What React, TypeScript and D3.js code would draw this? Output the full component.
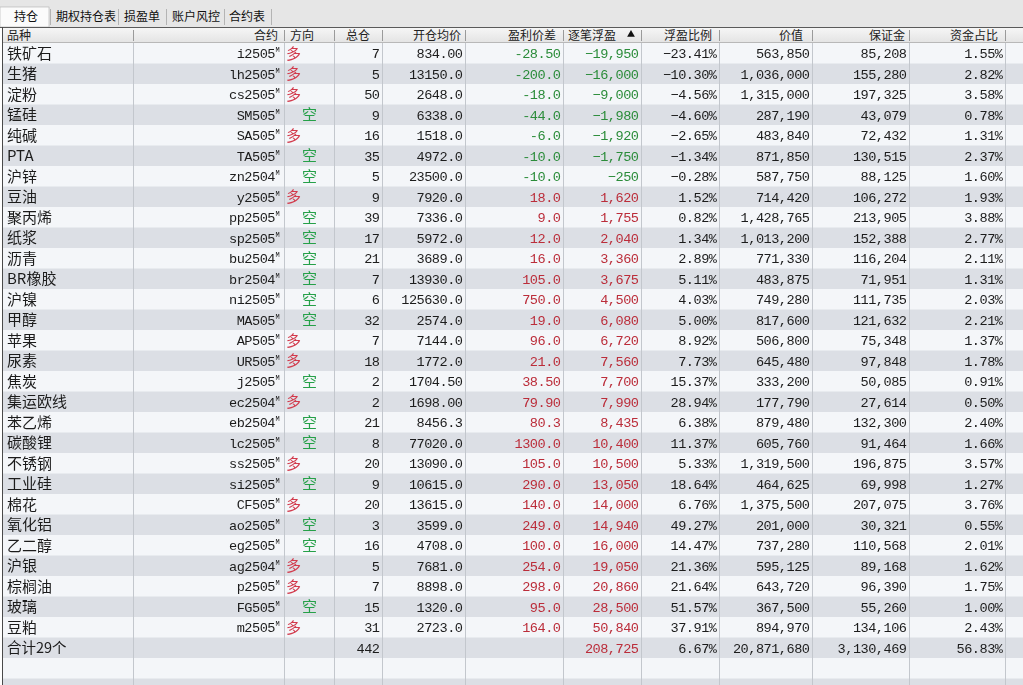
import React from 'react'
import * as d3 from 'd3'

// ---- data ----
const tabs = ['持仓', '期权持仓表', '损盈单', '账户风控', '合约表']
const headers = ['品种', '合约', '方向', '总仓', '开仓均价', '盈利价差', '逐笔浮盈', '浮盈比例', '价值', '保证金', '资金占比']

const varieties = ['铁矿石', '生猪', '淀粉', '锰硅', '纯碱', 'PTA', '沪锌', '豆油', '聚丙烯', '纸浆', '沥青', 'BR橡胶', '沪镍', '甲醇', '苹果', '尿素', '焦炭', '集运欧线', '苯乙烯', '碳酸锂', '不锈钢', '工业硅', '棉花', '氧化铝', '乙二醇', '沪银', '棕榈油', '玻璃', '豆粕']
const contracts = ['i2505', 'lh2505', 'cs2505', 'SM505', 'SA505', 'TA505', 'zn2504', 'y2505', 'pp2505', 'sp2505', 'bu2504', 'br2504', 'ni2505', 'MA505', 'AP505', 'UR505', 'j2505', 'ec2504', 'eb2504', 'lc2505', 'ss2505', 'si2505', 'CF505', 'ao2505', 'eg2505', 'ag2504', 'p2505', 'FG505', 'm2505']
const directions = ['多', '多', '多', '空', '多', '空', '空', '多', '空', '空', '空', '空', '空', '空', '多', '多', '空', '多', '空', '空', '多', '空', '多', '空', '空', '多', '多', '空', '多']
const positions = [7, 5, 50, 9, 16, 35, 5, 9, 39, 17, 21, 7, 6, 32, 7, 18, 2, 2, 21, 8, 20, 9, 20, 3, 16, 5, 7, 15, 31]
const openPrices = ['834.00', '13150.0', '2648.0', '6338.0', '1518.0', '4972.0', '23500.0', '7920.0', '7336.0', '5972.0', '3689.0', '13930.0', '125630.0', '2574.0', '7144.0', '1772.0', '1704.50', '1698.00', '8456.3', '77020.0', '13090.0', '10615.0', '13615.0', '3599.0', '4708.0', '7681.0', '8898.0', '1320.0', '2723.0']
const priceDiffs = ['-28.50', '-200.0', '-18.0', '-44.0', '-6.0', '-10.0', '-10.0', '18.0', '9.0', '12.0', '16.0', '105.0', '750.0', '19.0', '96.0', '21.0', '38.50', '79.90', '80.3', '1300.0', '105.0', '290.0', '140.0', '249.0', '100.0', '254.0', '298.0', '95.0', '164.0']
const floatPnL = [-19950, -16000, -9000, -1980, -1920, -1750, -250, 1620, 1755, 2040, 3360, 3675, 4500, 6080, 6720, 7560, 7700, 7990, 8435, 10400, 10500, 13050, 14000, 14940, 16000, 19050, 20860, 28500, 50840]
const pnlRatios = [-23.41, -10.3, -4.56, -4.6, -2.65, -1.34, -0.28, 1.52, 0.82, 1.34, 2.89, 5.11, 4.03, 5.0, 8.92, 7.73, 15.37, 28.94, 6.38, 11.37, 5.33, 18.64, 6.76, 49.27, 14.47, 21.36, 21.64, 51.57, 37.91]
const values = [563850, 1036000, 1315000, 287190, 483840, 871850, 587750, 714420, 1428765, 1013200, 771330, 483875, 749280, 817600, 506800, 645480, 333200, 177790, 879480, 605760, 1319500, 464625, 1375500, 201000, 737280, 595125, 643720, 367500, 894970]
const margins = [85208, 155280, 197325, 43079, 72432, 130515, 88125, 106272, 213905, 152388, 116204, 71951, 111735, 121632, 75348, 97848, 50085, 27614, 132300, 91464, 196875, 69998, 207075, 30321, 110568, 89168, 96390, 55260, 134106]
const fundRatios = [1.55, 2.82, 3.58, 0.78, 1.31, 2.37, 1.6, 1.93, 3.88, 2.77, 2.11, 1.31, 2.03, 2.21, 1.37, 1.78, 0.91, 0.5, 2.4, 1.66, 3.57, 1.27, 3.76, 0.55, 2.01, 1.62, 1.75, 1.0, 2.43]

// totals as shown on the 合计 row
const totalLabel = '合计29个'
const totalRatio = 6.67
const totalMargin = 3130469
const totalFundRatio = 56.83

// ---- layout ----
const W = 1023
const H = 685
const colEdges = [2, 133, 284, 334, 382, 465, 563, 641, 719, 812, 909, 1005, 1023]
const headerTop = 27
const headerBottom = 43
const rowH = 20.5

const RED = '#bb2d3a'
const GREEN = '#2b8c3a'
const TEXT = '#1c1c1c'
const MONO = "'Liberation Mono', 'Noto Sans CJK SC', monospace"
const CJK = "'Noto Sans CJK SC', 'Liberation Mono', sans-serif"

const fmtInt = d3.format(',')
const fmtPct = (v: number) => d3.format('.2f')(v) + '%'
const signColor = (v: number) => (v < 0 ? GREEN : RED)

export default function App() {
  const nRows = Math.ceil((H - headerBottom) / rowH)
  const y = d3
    .scaleBand<number>()
    .domain(d3.range(nRows))
    .range([headerBottom, headerBottom + nRows * rowH])
    .paddingInner(0)

  const totalPos = d3.sum(positions)
  const totalPnL = d3.sum(floatPnL)
  const totalValue = d3.sum(values)

  const right = (c: number) => colEdges[c + 1] - 2.5
  const nameX = 7

  // header alignment / padding per column
  const headerAnchor = ['start', 'end', 'start', 'end', 'end', 'end', 'start', 'end', 'end', 'end', 'end']
  const headerPad = [5, 6, 6, 12, 4, 7, 5, 7, 9, 4, 7]

  const tabX = [14, 56, 124, 172, 229]
  const tabSeps = [50, 118, 166, 224, 271]

  const tri = d3.symbol(d3.symbolTriangle, 26)()

  const numText = (x: number, i: number, txt: string, color = TEXT) => (
    <text
      x={x}
      y={(y(i) as number) + 15}
      textAnchor="end"
      fill={color}
      fontFamily={MONO}
      fontSize={13.6}
      letterSpacing={-0.5}
    >
      {txt}
    </text>
  )

  return (
    <div style={{ position: 'fixed', left: 0, top: 0 }}>
      <svg width={W} height={H} style={{ display: 'block' }}>
        <defs>
          <linearGradient id="hdr" x1="0" y1="0" x2="0" y2="1">
            <stop offset="0" stopColor="#f7f7f7" />
            <stop offset="1" stopColor="#e3e3e3" />
          </linearGradient>
        </defs>
        {/* tab strip */}
        <rect x={0} y={0} width={W} height={headerTop} fill="#e6e6e6" />
        <rect x={0} y={7} width={49} height={headerTop - 7} fill="#fbfbfb" stroke="#b0b0b0" strokeWidth={0.6} />
        {tabSeps.map((x, i) => (
          <line key={i} x1={x + 0.5} x2={x + 0.5} y1={9} y2={25} stroke="#b4b4b4" />
        ))}
        {tabs.map((t, i) => (
          <text key={t} x={tabX[i]} y={21} fontFamily={CJK} fontSize={12} fill="#111">
            {t}
          </text>
        ))}

        {/* rows background */}
        {d3.range(nRows).map((i) => (
          <rect key={i} x={colEdges[0]} y={y(i)} width={W - colEdges[0]} height={rowH + 0.5} fill={i % 2 === 0 ? '#f4f6f9' : '#dcdfe5'} />
        ))}

        {/* header */}
        <rect x={colEdges[0]} y={headerTop} width={W - colEdges[0]} height={headerBottom - headerTop} fill="url(#hdr)" />
        <line x1={0} x2={W} y1={headerTop + 0.5} y2={headerTop + 0.5} stroke="#5a5a5a" />
        <line x1={colEdges[0]} x2={W} y1={headerBottom - 0.5} y2={headerBottom - 0.5} stroke="#b8b8b8" />
        {headers.map((h, c) => (
          <text
            key={h}
            x={headerAnchor[c] === 'end' ? colEdges[c + 1] - headerPad[c] : colEdges[c] + headerPad[c]}
            y={headerTop + 12.5}
            textAnchor={headerAnchor[c]}
            fontFamily={CJK}
            fontSize={12}
            fill="#222"
          >
            {h}
          </text>
        ))}
        <path d={tri as string} transform={`translate(${colEdges[7] - 10},${headerTop + 7.5})`} fill="#111" />

        {/* vertical grid */}
        {colEdges.slice(1, -1).map((x, i) => (
          <g key={i}>
            <line x1={x + 0.5} x2={x + 0.5} y1={headerTop + 3} y2={headerBottom - 2} stroke="#9a9a9a" />
            <line x1={x + 0.5} x2={x + 0.5} y1={headerBottom} y2={H} stroke="#c3c7cd" />
          </g>
        ))}
        <line x1={colEdges[0] + 0.5} x2={colEdges[0] + 0.5} y1={headerTop} y2={H} stroke="#4a4a4a" />

        {/* data rows */}
        {varieties.map((v, i) => {
          const top = y(i) as number
          return (
            <g key={v}>
              <text x={nameX} y={top + 15.5} fontFamily={CJK} fontSize={15} fill={TEXT}>
                {v}
              </text>
              <text x={colEdges[2] - 9} y={top + 15} textAnchor="end" fontFamily={MONO} fontSize={13.6} letterSpacing={-0.5} fill={TEXT}>
                {contracts[i]}
              </text>
              <text x={colEdges[2] - 8.5} y={top + 9} fontFamily={MONO} fontSize={7} fill={TEXT}>
                M
              </text>
              <text
                x={directions[i] === '多' ? colEdges[2] + 2 : colEdges[2] + 18}
                y={top + 15.5}
                fontFamily={CJK}
                fontSize={15}
                fill={directions[i] === '多' ? '#d23a4c' : '#25a048'}
              >
                {directions[i]}
              </text>
              {numText(right(3), i, String(positions[i]))}
              {numText(right(4), i, openPrices[i])}
              {numText(right(5), i, priceDiffs[i], signColor(+priceDiffs[i]))}
              {numText(right(6), i, fmtInt(floatPnL[i]), signColor(floatPnL[i]))}
              {numText(right(7), i, fmtPct(pnlRatios[i]))}
              {numText(right(8), i, fmtInt(values[i]))}
              {numText(right(9), i, fmtInt(margins[i]))}
              {numText(right(10), i, fmtPct(fundRatios[i]))}
            </g>
          )
        })}

        {/* total row */}
        <g>
          <text x={nameX} y={(y(varieties.length) as number) + 15.5} fontFamily={CJK} fontSize={14.5} fill={TEXT}>
            {totalLabel}
          </text>
          {numText(right(3), varieties.length, String(totalPos))}
          {numText(right(6), varieties.length, fmtInt(totalPnL), signColor(totalPnL))}
          {numText(right(7), varieties.length, fmtPct(totalRatio))}
          {numText(right(8), varieties.length, fmtInt(totalValue))}
          {numText(right(9), varieties.length, fmtInt(totalMargin))}
          {numText(right(10), varieties.length, fmtPct(totalFundRatio))}
        </g>
      </svg>
    </div>
  )
}
